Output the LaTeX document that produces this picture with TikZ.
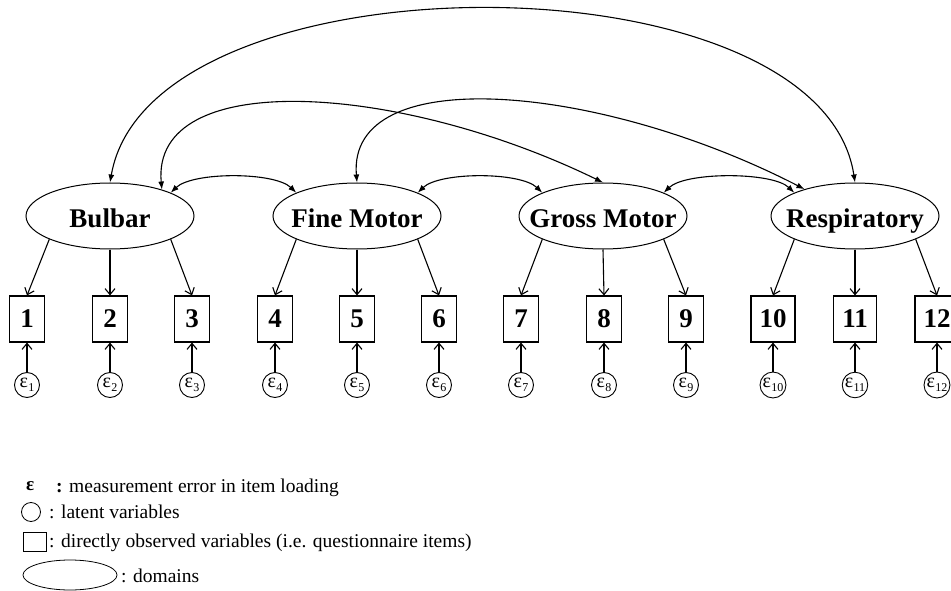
\documentclass[tikz,border=0pt]{standalone}
\usepackage{fontspec}
\setmainfont{Liberation Serif}
\usetikzlibrary{shapes.geometric,arrows.meta}
% error term label: epsilon with a lowered index
\newcommand\errsym[1]{ε\kern0.2pt\raisebox{-4pt}{\fontsize{12}{12}\selectfont #1}}

\begin{document}
\begin{tikzpicture}[x=1pt,y=1pt,
  domainnode/.style={draw, ellipse, line width=1pt, minimum width=168pt, minimum height=66pt, inner sep=0pt},
  dlabel/.style={font=\fontsize{27}{27}\selectfont\bfseries, text height=18pt, text depth=0pt,
    inner sep=0pt, yshift=-2pt},
  itembox/.style={draw, rectangle, line width=1.1pt, minimum width=35pt, minimum height=46pt,
    inner xsep=8.5pt, inner ysep=0pt, font=\fontsize{27}{27}\selectfont\bfseries},
  errnode/.style={draw, circle, line width=0.9pt, minimum size=25pt, inner sep=0.5pt,
    font=\fontsize{20}{20}\selectfont},
  corr/.style={line width=1.1pt, {Latex[length=8pt,width=6pt]}-{Latex[length=8pt,width=6pt]}},
  load/.style={line width=1.1pt, -{Straight Barb[length=6pt,width=10pt]}},
  legtext/.style={anchor=base west, inner sep=0pt, font=\fontsize{19.5}{19.5}\selectfont}
]
\useasboundingbox (0,0) rectangle (951,-591);
\fill[white] (0,0) rectangle (951,-591);
\clip (0,0) rectangle (951,-591);

% domains
\node[domainnode, label={[dlabel]center:Bulbar}]      (bul) at (110,-216) {};
\node[domainnode, label={[dlabel]center:Fine Motor}]  (fin) at (357,-216) {};
\node[domainnode, label={[dlabel]center:Gross Motor}] (gro) at (603,-216) {};
\node[domainnode, label={[dlabel]center:Respiratory}] (res) at (855,-216) {};

% questionnaire items and their error terms
\foreach \i/\x in {1/27,2/110,3/192,4/275,5/357,6/439,7/521,8/604,9/686,10/773,11/855,12/937}{
  \node[itembox] (b\i) at (\x,-319) {\i};
  \node[errnode] (e\i) at (\x,-385) {\errsym{\i}};
  \draw[load] (e\i.north) -- (b\i.south);
}

% loadings
\draw[load] (bul.-159) -- (b1.north);
\draw[load] (bul.south) -- (b2.north);
\draw[load] (bul.-21)  -- (b3.north);
\draw[load] (fin.-159) -- (b4.north);
\draw[load] (fin.south) -- (b5.north);
\draw[load] (fin.-21)  -- (b6.north);
\draw[load] (gro.-159) -- (b7.north);
\draw[load] (gro.south) -- (b8.north);
\draw[load] (gro.-21)  -- (b9.north);
\draw[load] (res.-159) -- (b10.north);
\draw[load] (res.south) -- (b11.north);
\draw[load] (res.-21)  -- (b12.north);

% correlations between domains
\draw[corr] (bul.21) .. controls +(22,21) and +(-22,21) .. (fin.159);
\draw[corr] (fin.21) .. controls +(22,21) and +(-22,21) .. (gro.159);
\draw[corr] (gro.21) .. controls +(22,21) and +(-22,21) .. (res.159);
\draw[corr] (bul.27) .. controls +(-11,122) and +(-205,100) .. (gro.north);
\draw[corr] (fin.north) .. controls +(-10,121) and +(-206,106) .. (res.152);
\draw[corr] (bul.north) .. controls +(40,231) and +(-35,231) .. (res.north);

% legend
\node[legtext, font=\fontsize{19}{19}\selectfont\bfseries] (lgeps) at (26,-490) {ε};
\node[legtext] (lgepst) at (56,-492) {\textbf{:} measurement error in item loading};
\node[draw, circle, line width=0.8pt, minimum size=19pt, inner sep=0pt] (lgcirc) at (31,-512) {};
\node[legtext] (lgcirct) at (49,-518) {: latent variables};
\node[draw, rectangle, line width=0.8pt, minimum width=23pt, minimum height=19pt, inner sep=0pt] (lgbox) at (34.5,-541.5) {};
\node[legtext] (lgboxt) at (49,-547) {: directly observed variables (i.e. questionnaire items)};
\node[draw, ellipse, line width=0.8pt, minimum width=94pt, minimum height=30pt, inner sep=0pt] (lgell) at (70,-575) {};
\node[legtext] (lgellt) at (121,-582) {: domains};
\end{tikzpicture}
\end{document}
